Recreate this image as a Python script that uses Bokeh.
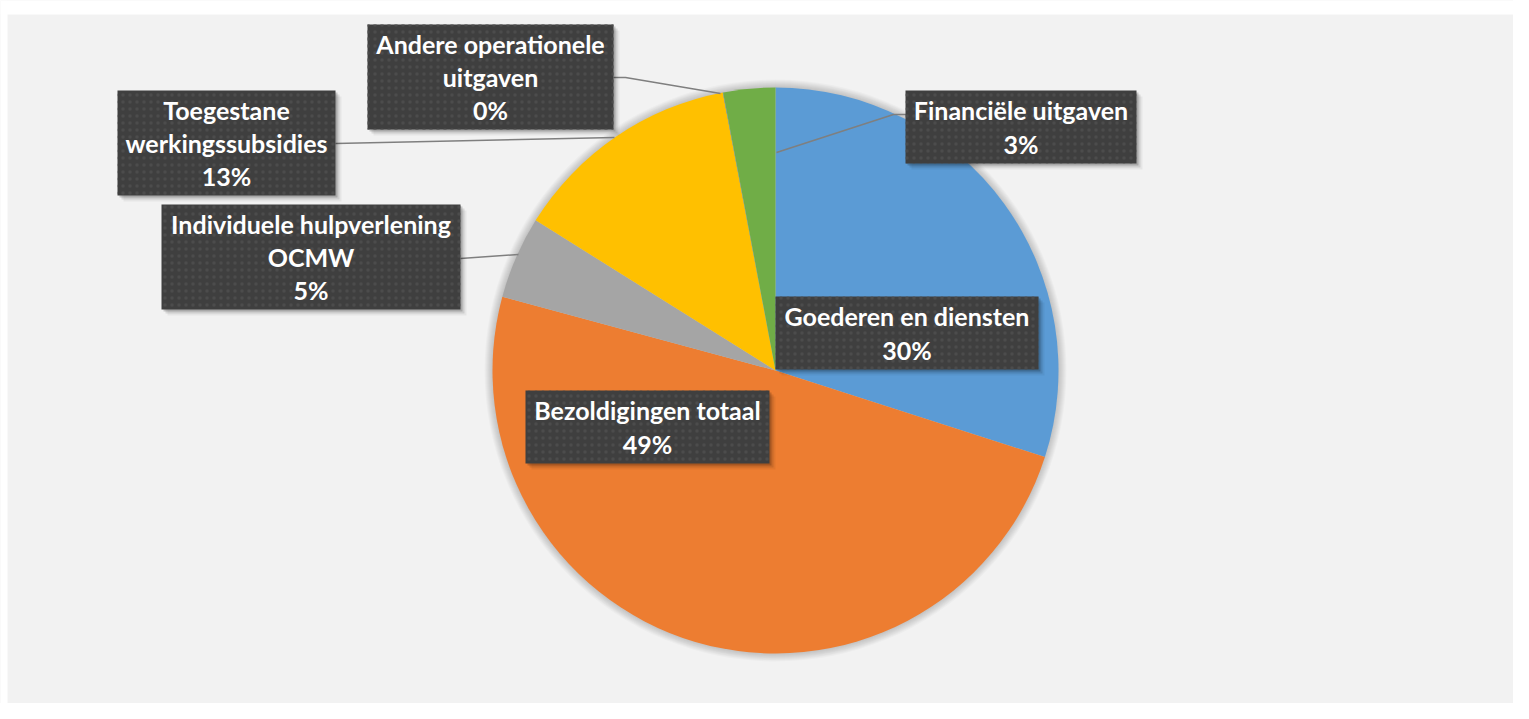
import numpy as np
from bokeh.plotting import figure
from bokeh.models import Range1d
from bokeh.core.properties import value
from bokeh.embed import file_html
from bokeh.resources import INLINE

# ---- data ----
categories = ["Goederen en diensten", "Bezoldigingen totaal", "Individuele hulpverlening OCMW",
              "Toegestane werkingssubsidies", "Andere operationele uitgaven", "Financiële uitgaven"]
values = [29.92, 49.2, 4.7, 13.1, 0.02, 2.96]
colors = ["#5B9BD5", "#ED7D31", "#A5A5A5", "#FFC000", "#4472C4", "#70AD47"]
# wrapped display text for the data labels
label_names = ["Goederen en diensten", "Bezoldigingen totaal", "Individuele hulpverlening\nOCMW",
               "Toegestane\nwerkingssubsidies", "Andere operationele\nuitgaven", "Financiële uitgaven"]

# ---- layout (pixel coordinates inside the figure) ----
W, H = 1513, 703

def ys(v):
    return H - v

cx, cy, R = 775, ys(370), 283
# label boxes: left, right, top, bottom
boxes = [(775, 1038, 296, 369), (525, 769, 390, 463), (161, 460, 204, 309),
         (117, 335, 90, 195), (367, 613, 24, 129), (905, 1136, 90, 163)]
leaders = [None, None,
           ([460, 518], [258, 254]),
           ([335, 614], [143, 137]),
           ([613, 625, 720], [77, 77, 93]),
           ([906, 893, 776], [114, 114, 152])]

p = figure(width=W, height=H, output_backend="svg", toolbar_location=None,
           x_range=Range1d(0, W), y_range=Range1d(0, H),
           min_border=0, min_border_top=0, min_border_left=0, min_border_right=0, min_border_bottom=0,
           x_axis_location=None, y_axis_location=None,
           background_fill_color="#F2F2F2", border_fill_color="#FFFFFF", outline_line_color=None)
p.grid.visible = False

# white page strips (top and left) around the chart area
p.quad(left=[0, 0], right=[W, 7], top=[H, H], bottom=[ys(14), 0], fill_color="#FFFFFF", line_color=None)

# soft shadow around the pie
for k in range(1, 9):
    p.circle(x=[cx], y=[cy], radius=R + k, fill_color="#000000", fill_alpha=0.022, line_color=None)

total = sum(values)
frac = np.array(values) / total
cum = np.concatenate([[0], np.cumsum(frac)])
start = np.pi / 2 - 2 * np.pi * cum[:-1]
end = np.pi / 2 - 2 * np.pi * cum[1:]
p.wedge(x=cx, y=cy, radius=R, start_angle=start, end_angle=end, direction="clock",
        fill_color=colors, line_color=None)

# leader lines
for ld in leaders:
    if ld is None:
        continue
    xs_, ys_ = ld
    p.line(xs_, [ys(v) for v in ys_], line_color="#7F7F7F", line_width=1.5)

# label boxes with shadow
for (l, r, t, b) in boxes:
    for off, a in [(2, 0.18), (4, 0.10), (6, 0.05)]:
        p.quad(left=l + off, right=r + off, top=ys(t + off), bottom=ys(b + off),
               fill_color="#000000", fill_alpha=a, line_color=None)
    p.quad(left=l, right=r, top=ys(t), bottom=ys(b), fill_color="#3F3F3F", line_color=None,
           hatch_pattern=".", hatch_color="#4C4C4C", hatch_scale=7, hatch_weight=1.5)

texts = [f"{n}\n{round(v / total * 100):.0f}%" for n, v in zip(label_names, values)]
tx = [(l + r) / 2 for (l, r, t, b) in boxes]
ty = [ys((t + b) / 2) for (l, r, t, b) in boxes]
p.text(x=tx, y=ty, text=texts, text_align="center", text_baseline="middle",
       text_font=value("Lato"), text_font_style="bold", text_font_size="25px",
       text_line_height=1.11, text_color="#FFFFFF")

open("out.html", "w").write(file_html(p, INLINE))
